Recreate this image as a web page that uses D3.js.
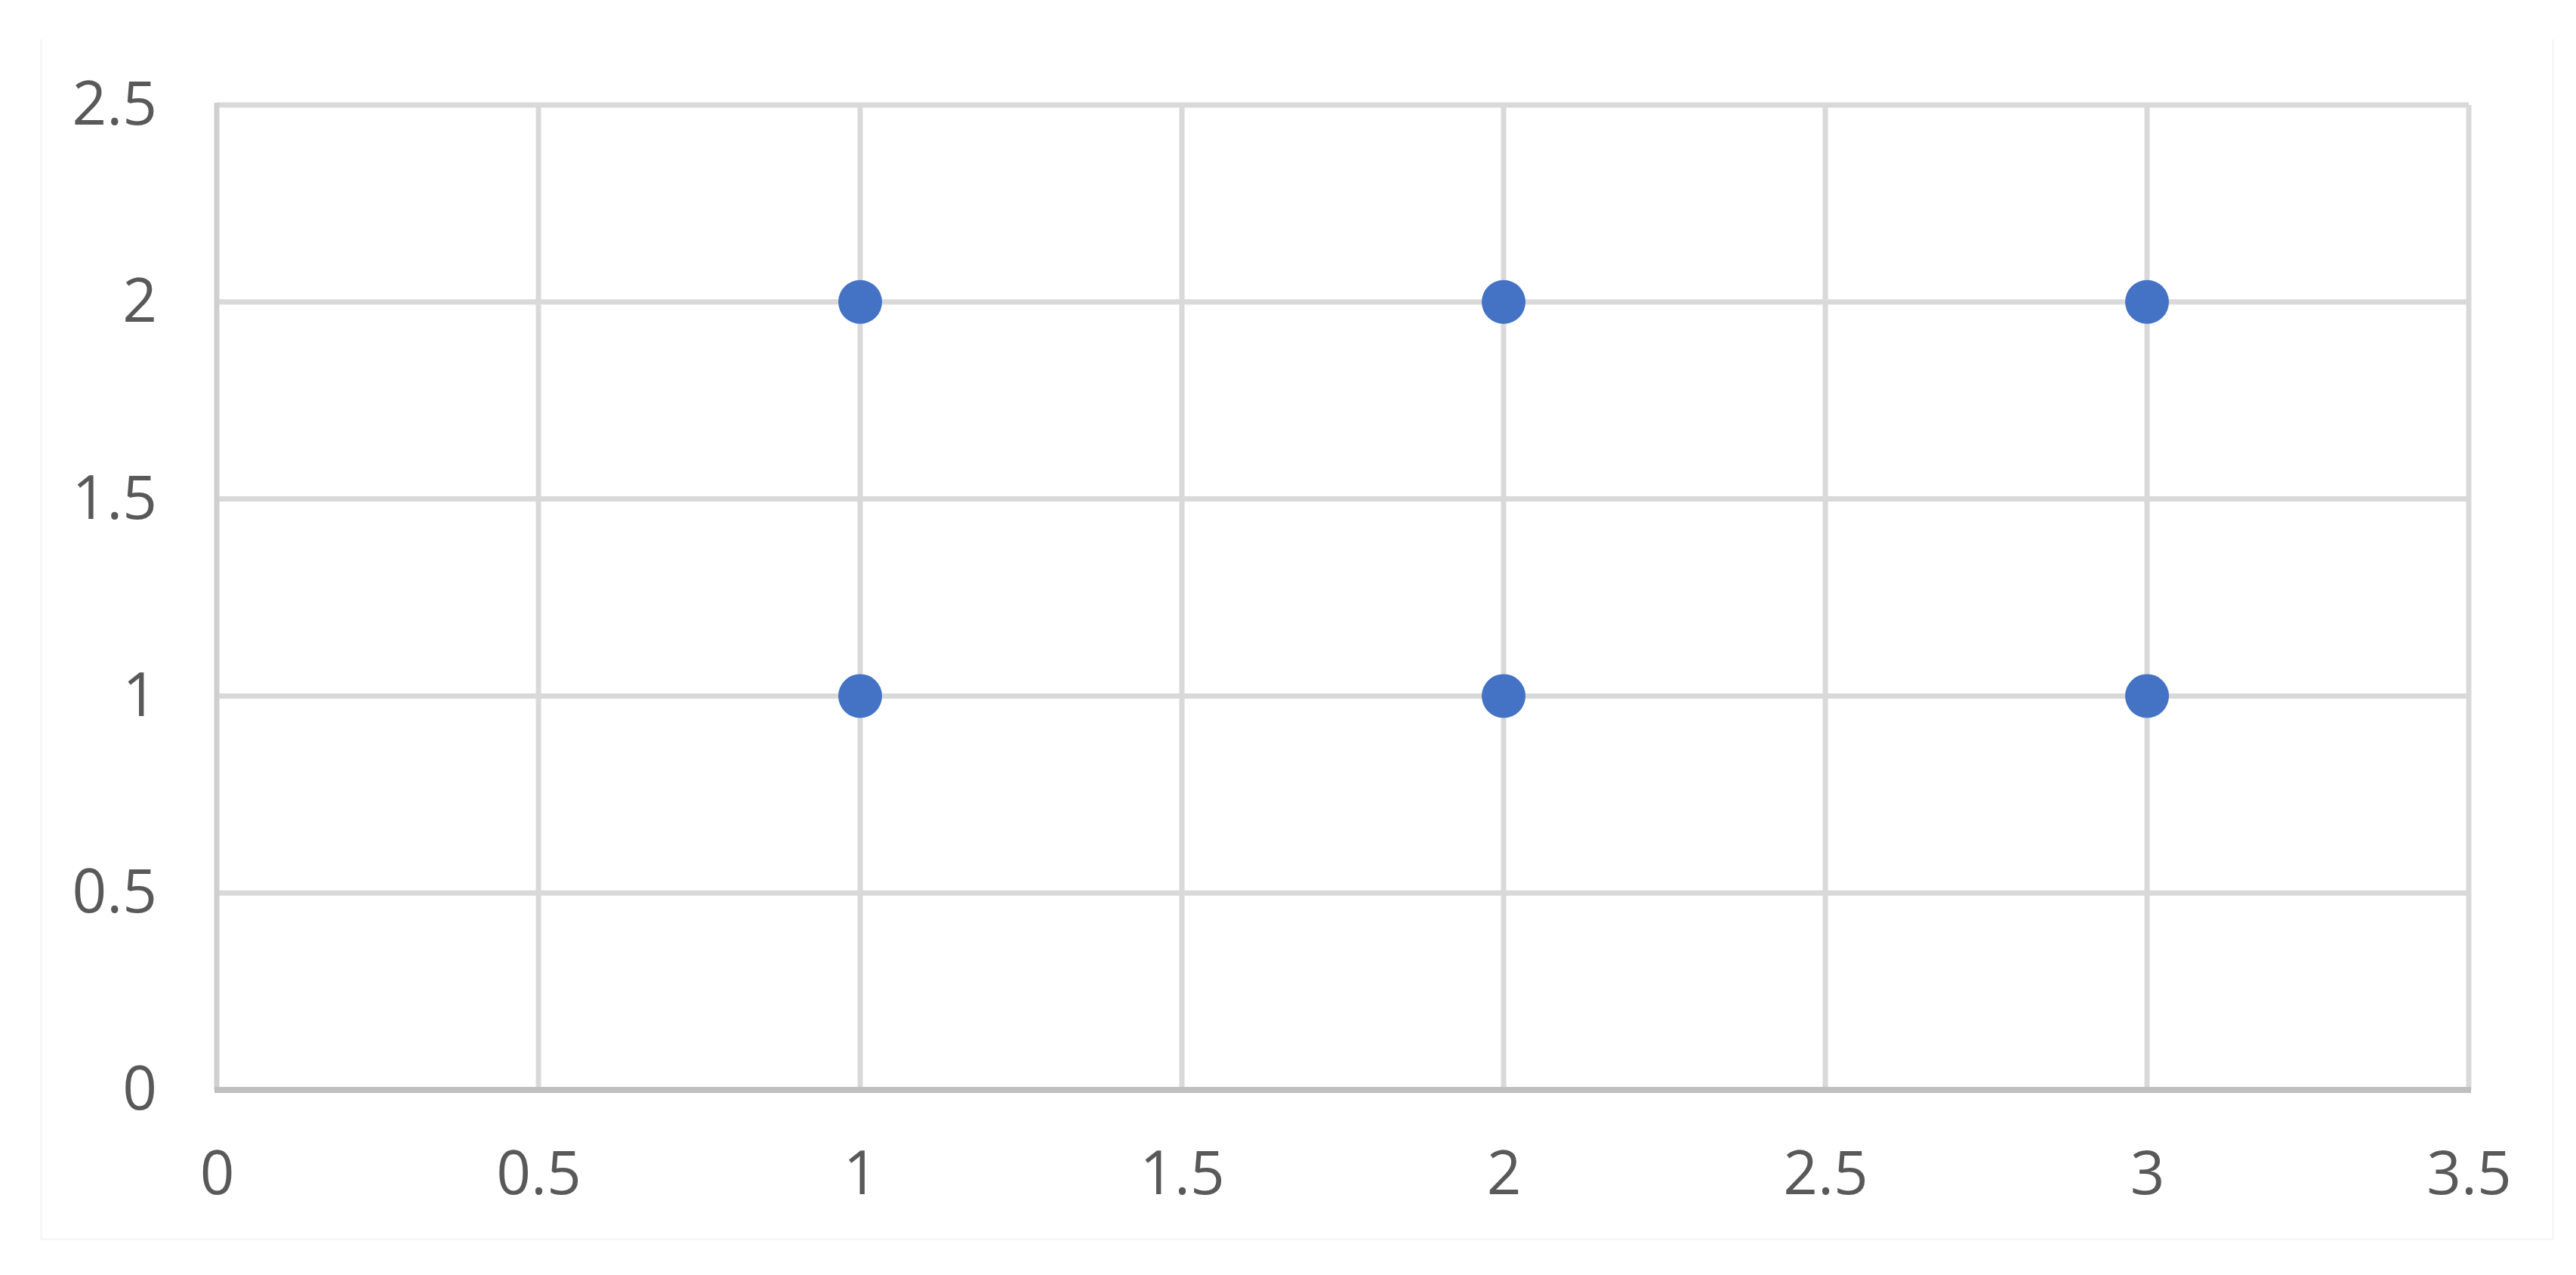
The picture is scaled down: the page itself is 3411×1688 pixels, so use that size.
<!DOCTYPE html>
<html>
<head>
<meta charset="utf-8">
<script src="https://cdn.jsdelivr.net/npm/d3@7"></script>
<style>
  html, body { margin: 0; padding: 0; background: #fff; }
  svg { display: block; }
</style>
</head>
<body>
<svg id="chart" width="3411" height="1688"></svg>
<script>
// scatter points
var xValues = [1, 1, 2, 2, 3, 3];
var yValues = [1, 2, 1, 2, 1, 2];
var xTicks = [0, 0.5, 1, 1.5, 2, 2.5, 3, 3.5];
var yTicks = [0, 0.5, 1, 1.5, 2, 2.5];

(function () {
  "use strict";
  var W = 3411, H = 1688;
  var m = { left: 287, right: W - 3269, top: 139, bottom: H - 1443 };
  var svg = d3.select("#chart");

  // faint outer frame of the chart area
  svg.append("path")
    .attr("d", "M54.5,52V1640.5H3380.5V52")
    .attr("fill", "none").attr("stroke", "#f3f3f3").attr("stroke-width", 2);

  var x = d3.scaleLinear().domain([0, 3.5]).range([m.left, W - m.right]);
  var y = d3.scaleLinear().domain([0, 2.5]).range([H - m.bottom, m.top]);

  var grid = svg.append("g");
  grid.selectAll("line.v").data(xTicks.filter(function (t) { return t > 0; })).enter().append("line")
    .attr("x1", function (d) { return x(d); }).attr("x2", function (d) { return x(d); })
    .attr("y1", y(0)).attr("y2", y(2.5))
    .attr("stroke", "#d9d9d9").attr("stroke-width", 7);
  grid.selectAll("line.h").data(yTicks.filter(function (t) { return t > 0; })).enter().append("line")
    .attr("y1", function (d) { return y(d); }).attr("y2", function (d) { return y(d); })
    .attr("x1", x(0)).attr("x2", x(3.5))
    .attr("stroke", "#d9d9d9").attr("stroke-width", 7);

  // axis lines
  svg.append("line").attr("x1", x(0)).attr("x2", x(0)).attr("y1", y(0)).attr("y2", y(2.5) - 3)
    .attr("stroke", "#cfcfcf").attr("stroke-width", 7);
  svg.append("line").attr("x1", x(0) - 3).attr("x2", x(3.5) + 3).attr("y1", y(0)).attr("y2", y(0))
    .attr("stroke", "#bfbfbf").attr("stroke-width", 8);

  var fmt = function (d) { return String(d); };
  var xAxis = svg.append("g").attr("transform", "translate(0," + (y(0) + 110) + ")")
    .call(d3.axisBottom(x).tickValues(xTicks).tickFormat(fmt).tickSize(0));
  var yAxis = svg.append("g").attr("transform", "translate(" + (x(0) - 79) + ",0)")
    .call(d3.axisLeft(y).tickValues(yTicks).tickFormat(fmt).tickSize(0));
  [xAxis, yAxis].forEach(function (a) {
    a.select(".domain").remove();
    a.selectAll("text")
      .attr("fill", "#595959")
      .style("font-family", "'Open Sans', sans-serif")
      .style("font-size", "80px");
  });
  xAxis.selectAll("text").attr("dy", "0.35em").attr("y", 0);
  yAxis.selectAll("text").attr("x", 0);

  svg.append("g").selectAll("circle").data(xValues).enter().append("circle")
    .attr("cx", function (d) { return x(d); })
    .attr("cy", function (d, i) { return y(yValues[i]); })
    .attr("r", 29)
    .attr("fill", "#4472c4");
})();
</script>
</body>
</html>
